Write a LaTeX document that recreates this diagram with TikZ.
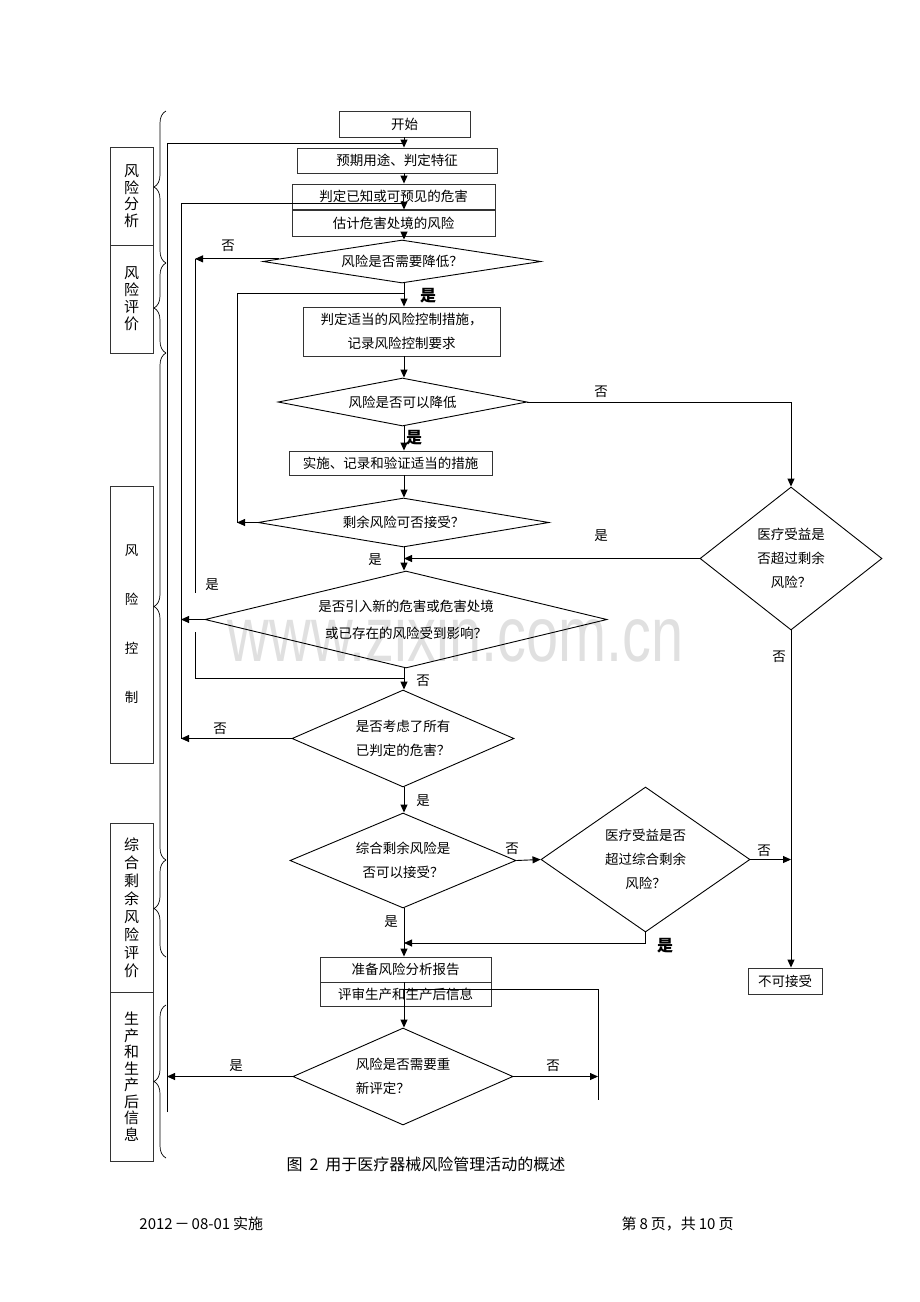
\documentclass[tikz,border=0pt]{standalone}
\usepackage{fontspec}
\usepackage{graphicx}
\setmainfont{Noto Sans CJK SC}
\newfontfamily\wmfont{Liberation Sans}
\usetikzlibrary{arrows.meta,shapes.geometric,decorations.pathreplacing,calc}
\begin{document}
\begin{tikzpicture}[x=1pt,y=-1pt,
  line width=0.9pt,
  box/.style={draw=black!80, line width=0.9pt, inner sep=0pt, font=\fontsize{13.5}{24}\selectfont, align=center},
  dec/.style={draw, diamond, inner sep=0pt, font=\fontsize{13.5}{24}\selectfont, align=center},
  arr/.style={-{Triangle[length=8pt,width=7pt]}},
  lab/.style={font=\fontsize{13.5}{15}\selectfont, inner sep=0pt},
  blab/.style={font=\fontsize{16}{18}\selectfont\bfseries, inner sep=0pt},
  side/.style={draw=black!80, line width=0.9pt, inner sep=0pt, align=center, minimum width=43pt},
  brc/.style={decorate, decoration={brace, amplitude=12pt}, line width=0.7pt}
]
\useasboundingbox (0,0) rectangle (920,1302);

% watermark
\node[text=black!12, font=\wmfont\fontsize{78}{80}\selectfont, inner sep=0pt] (wm) at (455.5,634) {\scalebox{0.74}[1]{www.zixin.com.cn}};

\coordinate (sp) at (404,0);

% boxes and decisions
\node[box, minimum width=131pt, minimum height=26pt] (b1) at (404.5,124) {开始};
\node[box, minimum width=200pt, minimum height=25pt] (b2) at (397,160.5) {预期用途、判定特征};
\node[box, minimum width=203pt, minimum height=25pt] (b3) at (393.5,196.5) {判定已知或可预见的危害};
\node[box, minimum width=203pt, minimum height=26pt] (b4) at (393.5,223) {估计危害处境的风险};
\node[dec, minimum width=278pt, minimum height=43pt, shape aspect=6.47] (d1) at (402,261.5) {风险是否需要降低？};
\node[box, minimum width=197pt, minimum height=49pt] (b5) at (401.5,331.5) {判定适当的风险控制措施，\\记录风险控制要求};
\node[dec, minimum width=249pt, minimum height=48pt, shape aspect=5.2] (d2) at (402.5,402) {风险是否可以降低};
\node[box, minimum width=203pt, minimum height=24pt] (b6) at (390.5,463) {实施、记录和验证适当的措施};
\node[dec, minimum width=291pt, minimum height=49pt, shape aspect=5.9] (d3) at (403.5,522.5) {剩余风险可否接受？};
\node[dec, minimum width=402pt, minimum height=97pt, shape aspect=4.14, font=\fontsize{13.5}{27}\selectfont] (d4) at (406,619.5) {是否引入新的危害或危害处境\\或已存在的风险受到影响？};
\node[dec, minimum width=222pt, minimum height=97pt, shape aspect=2.29] (d5) at (403,738.5) {是否考虑了所有\\已判定的危害？};
\node[dec, minimum width=182pt, minimum height=143pt, shape aspect=1.27] (d6) at (791,558.5) {医疗受益是\\否超过剩余\\风险？};
\node[dec, minimum width=226pt, minimum height=95pt, shape aspect=2.38] (d7) at (403,860.5) {综合剩余风险是\\否可以接受？};
\node[dec, minimum width=209pt, minimum height=145pt, shape aspect=1.44] (d8) at (645.5,859.5) {医疗受益是否\\超过综合剩余\\风险？};
\node[box, minimum width=74pt, minimum height=26pt] (b7) at (785,981) {不可接受};
\node[box, minimum width=171pt, minimum height=25pt] (b8) at (405.5,969.5) {准备风险分析报告};
\node[box, minimum width=171pt, minimum height=24pt] (b9) at (405.5,994) {评审生产和生产后信息};
\node[dec, minimum width=220pt, minimum height=97pt, shape aspect=2.27, align=left] (d9) at (403,1076.5) {风险是否需要重\\新评定？};

% main spine
\draw[arr] (sp |- b1.south) -- (sp |- b2.north);
\draw[arr] (sp |- b2.south) -- (sp |- b3.north);
\draw[arr] (sp |- b4.south) -- (sp |- d1.north);
\draw[arr] (sp |- d1.south) -- (sp |- b5.north);
\draw[arr] (sp |- b5.south) -- (sp |- d2.north);
\draw[arr] (sp |- d2.south) -- (sp |- b6.north);
\draw[arr] (sp |- b6.south) -- (sp |- d3.north);
\draw[arr] (sp |- d3.south) -- (sp |- d4.north);
\draw[arr] (sp |- d4.south) -- (sp |- d5.north);
\draw[arr] (sp |- d5.south) -- (sp |- d7.north);
\draw[arr] (sp |- d7.south) -- (sp |- b8.north);
\draw[arr] (sp |- b8.south) -- (sp |- d9.north);

% outer loop x=167
\coordinate (m0) at (167,143);
\coordinate (m0b) at (167,1112);
\draw (m0b) -- (m0) -- (sp |- m0);
\draw[arr] (d9.west) -- (m0 |- d9.west);

% loop x=181
\coordinate (m1) at (181,203);
\draw[arr] (m1 |- d5.west) -- (m1) -- (sp |- m1) -- (sp |- b4.north);
\draw[arr] (d4.west) -- (m1 |- d4.west);
\draw[arr] (d5.west) -- (m1 |- d5.west);

% loop x=195
\coordinate (d1o) at ($(d1.west)!0.12!(d1.north)$);
\coordinate (m2) at (195,0);
\coordinate (g1) at (195,593);
\coordinate (g2) at (195,632);
\coordinate (m2c) at (195,678);
\draw[arr] (d1o) -- (m2 |- d1o);
\draw (m2 |- d1o) -- (g1);
\draw (g2) -- (m2c) -- (sp |- m2c);

% loop x=237
\coordinate (m3) at (237,293);
\draw (m3 |- d3.west) -- (m3) -- (sp |- m3);
\draw[arr] (d3.west) -- (m3 |- d3.west);

% right side
\draw[arr] (d2.east) -- (d2.east -| d6.north) -- (d6.north);
\draw[arr] (d6.west) -- (sp |- d6.west);
\draw[arr] (d6.south) -- (d6.south |- b7.north);
\draw[arr] (d7.east) -- (d8.west);
\draw[arr] (d8.east) -- (d8.east -| d6.south);
\coordinate (m5) at (0,943);
\draw[arr] (d8.south) -- (d8.south |- m5) -- (sp |- m5);

% bottom loop
\coordinate (m6) at (598,989);
\coordinate (m6b) at (598,1100);
\draw (sp |- m6) -- (m6) -- (m6b);
\draw[arr] (d9.east) -- (m6 |- d9.east);

% branch labels
\node[lab] (l1) at (228,246) {否};
\node[blab] (l2) at (428,296) {是};
\node[lab] (l3) at (601,392) {否};
\node[blab] (l4) at (414,438) {是};
\node[lab] (l5) at (601,536) {是};
\node[lab] (l6) at (375,560) {是};
\node[lab] (l7) at (212,585) {是};
\node[lab] (l8) at (423,681) {否};
\node[lab] (l9) at (220,729) {否};
\node[lab] (l10) at (423,801) {是};
\node[lab] (l11) at (779,657) {否};
\node[lab] (l12) at (512,849) {否};
\node[lab] (l13) at (764,851) {否};
\node[lab] (l14) at (391,922) {是};
\node[blab] (l15) at (665,946) {是};
\node[lab] (l16) at (236,1066) {是};
\node[lab] (l17) at (553,1066) {否};

% side labels
\node[side, minimum height=98pt, font=\fontsize{15}{16.5}\selectfont] (s1) at (131.5,196) {风\\险\\分\\析};
\node[side, minimum height=108pt, font=\fontsize{15}{17}\selectfont] (s2) at (131.5,299) {风\\险\\评\\价};
\node[side, minimum height=277pt, font=\fontsize{13.5}{49}\selectfont] (s3) at (131.5,624.5) {风\\险\\控\\制};
\node[side, minimum height=169pt, font=\fontsize{15}{18}\selectfont] (s4) at (131.5,907.5) {综\\合\\剩\\余\\风\\险\\评\\价};
\node[side, minimum height=169pt, font=\fontsize{15}{16.5}\selectfont] (s5) at (131.5,1076.5) {生\\产\\和\\生\\产\\后\\信\\息};

% braces
\draw[brc] (166,263) -- (166,111);
\draw[brc] (166,353) -- (166,263);
\draw[brc] (166,860) -- (166,353);
\draw[brc] (166,957) -- (166,860);
\draw[brc] (166,1158) -- (166,1005);

% caption and footer
\node[font=\fontsize{16}{18}\selectfont, inner sep=0pt] (cap) at (426,1164) {图\hspace{7pt}2\hspace{7pt}用于医疗器械风险管理活动的概述};
\node[anchor=west, font=\fontsize{15}{17}\selectfont, inner sep=0pt] (f1) at (139,1224) {2012\hspace{2pt}－\hspace{2pt}08-01\hspace{3pt}实施};
\node[anchor=east, font=\fontsize{15}{17}\selectfont, inner sep=0pt] (f2) at (734,1224) {第\hspace{3pt}8\hspace{3pt}页，共\hspace{3pt}10\hspace{3pt}页};
\end{tikzpicture}
\end{document}
